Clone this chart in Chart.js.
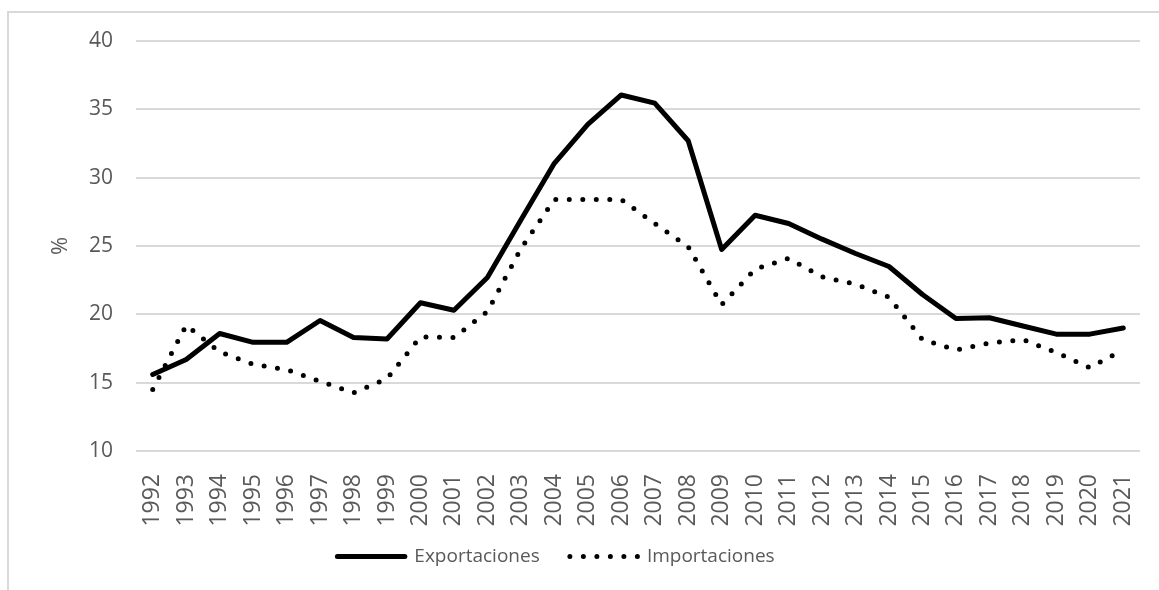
<!DOCTYPE html>
<html>
<head>
<meta charset="utf-8">
<script src="https://cdn.jsdelivr.net/npm/chart.js@4.4.0/dist/chart.umd.min.js"></script>
<style>
  html, body { margin: 0; padding: 0; background: #fff; overflow: hidden; }
  .frame {
    position: absolute; left: 7px; top: 11px;
    width: 1200px; height: 700px;
    border-left: 2px solid #d9d9d9; border-top: 2px solid #d9d9d9;
  }
  .wrap { position: absolute; left: 0; top: 0; width: 1159px; height: 590px; }
</style>
</head>
<body>
<div class="frame"></div>
<div class="wrap"><canvas id="chart" width="1159" height="590"></canvas></div>
<script>
const years = ["1992", "1993", "1994", "1995", "1996", "1997", "1998", "1999", "2000", "2001",
  "2002", "2003", "2004", "2005", "2006", "2007", "2008", "2009", "2010", "2011",
  "2012", "2013", "2014", "2015", "2016", "2017", "2018", "2019", "2020", "2021"];

const exportaciones = [15.6, 16.7, 18.6, 17.95, 17.95, 19.55, 18.3, 18.2, 20.85, 20.3,
  22.7, 26.9, 31.05, 33.9, 36.05, 35.45, 32.7, 24.75, 27.25, 26.65,
  25.5, 24.45, 23.5, 21.45, 19.7, 19.75, 19.15, 18.55, 18.55, 19.0];

const importaciones = [14.5, 19.2, 17.25, 16.35, 15.95, 15.1, 14.25, 15.3, 18.35, 18.3,
  20.2, 24.8, 28.4, 28.4, 28.4, 26.65, 24.95, 20.7, 23.3, 24.1,
  22.75, 22.2, 21.25, 18.15, 17.4, 17.9, 18.15, 17.2, 16.1, 17.4];

const yTicks = [10, 15, 20, 25, 30, 35, 40];

const grey = "#595959";
const font = "'Open Sans', sans-serif";

const ctx = document.getElementById("chart").getContext("2d");
const myChart = new Chart(ctx, {
  type: "line",
  data: {
    labels: years,
    datasets: [
      {
        label: "Exportaciones",
        data: exportaciones,
        borderColor: "#000",
        backgroundColor: "#000",
        borderWidth: 5,
        borderCapStyle: "round",
        borderJoinStyle: "round",
        pointRadius: 0,
        tension: 0,
      },
      {
        label: "Importaciones",
        data: importaciones,
        borderColor: "#000",
        backgroundColor: "#000",
        borderWidth: 5,
        borderDash: [0, 13.5],
        borderCapStyle: "round",
        borderJoinStyle: "round",
        pointRadius: 0,
        tension: 0,
      },
    ],
  },
  options: {
    responsive: false,
    animation: false,
    layout: {
      // negative left pulls the centred legend a bit to the left
      padding: { top: 41, left: -28, right: 19, bottom: 14 },
    },
    plugins: {
      tooltip: { enabled: false },
      legend: {
        position: "bottom",
        labels: {
          // flat box = a line sample; 67.5 = 5 dash steps so the dots overlap on the way back
          boxWidth: 67.5,
          boxHeight: 0,
          padding: 8,
          color: grey,
          font: { family: font, size: 19 },
          generateLabels: function (chart) {
            const items = Chart.defaults.plugins.legend.labels.generateLabels(chart);
            // extra gap between the two entries
            items[0].text += "\u2002\u2002\u2009";
            return items;
          },
        },
      },
    },
    scales: {
      x: {
        offset: true,
        grid: { display: false },
        border: { display: false },
        ticks: {
          color: grey,
          font: { family: font, size: 23 },
          minRotation: 90,
          maxRotation: 90,
          padding: 15,
          autoSkip: false,
        },
        afterFit: function (scale) {
          scale.height = 88;
          // labels sit inside the offset, no extra side room needed
          scale.paddingLeft = 0;
          scale.paddingRight = 0;
        },
      },
      y: {
        min: 10,
        max: 40,
        afterBuildTicks: function (scale) {
          scale.ticks = yTicks.map(function (v) { return { value: v }; });
        },
        grid: { color: "#d9d9d9", lineWidth: 2, drawTicks: false },
        border: { display: false },
        ticks: {
          color: grey,
          font: { family: font, size: 21 },
          padding: 23,
        },
        title: {
          display: true,
          text: "%",
          color: grey,
          font: { family: font, size: 22 },
          padding: { top: 76 },
        },
        afterFit: function (scale) {
          scale.width = 164;
        },
      },
    },
  },
});
</script>
</body>
</html>
